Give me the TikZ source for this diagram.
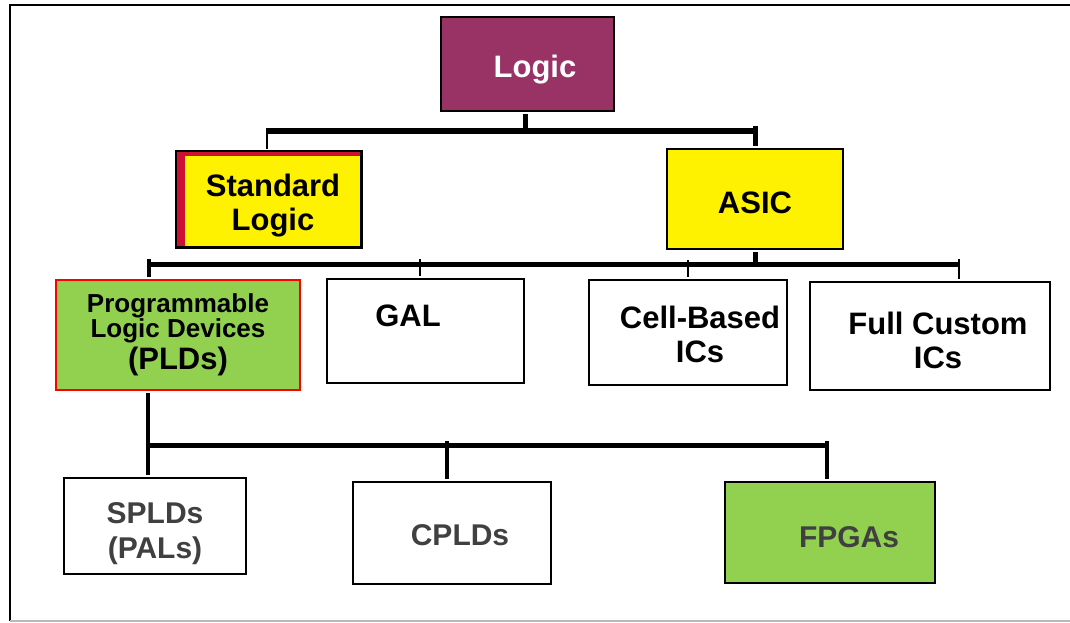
\documentclass[tikz,border=0pt]{standalone}
\usepackage{fontspec}
\setmainfont{Liberation Sans}
\definecolor{plum}{RGB}{153,51,102}
\definecolor{leaf}{RGB}{146,208,80}
\definecolor{crimson}{RGB}{204,17,51}
\definecolor{darktext}{RGB}{64,64,64}
\begin{document}
\begin{tikzpicture}[x=1pt,y=-1pt,
  box/.style={draw=black,line width=2.2pt,inner sep=0pt,align=center},
  big/.style={font=\bfseries\fontsize{31}{34}\selectfont,align=center},
  grey/.style={font=\bfseries\fontsize{30}{35}\selectfont,text=darktext,align=center},
  bar/.style={line width=5pt},
  stem/.style={line width=4pt},
  twig/.style={line width=2pt}]
\useasboundingbox (0,0) rectangle (1070,623);
\fill[white] (0,0) rectangle (1070,623);
% outer frame
\draw[line width=2pt] (10,621) -- (10,5) -- (1072,5);
\draw[line width=1.5pt,gray!55] (10,621) -- (1072,621);

% top level
\node[box,fill=plum,minimum width=173pt,minimum height=94pt,
  label={[big,text=white,xshift=7.5pt,yshift=-5.5pt]center:Logic}]
  (logic) at (527.5,64) {};

% second level
\node[box,fill=yellow,minimum width=184pt,minimum height=95pt] (std) at (269,199.5) {};
\fill[crimson] (std.north west) rectangle ++(9,95);
\fill[crimson] (std.north west) rectangle ++(184,5);
\draw[line width=2.2pt] (std.north west) rectangle (std.south east);
\node[big] (stdtext) at ([xshift=4pt,yshift=-6.5pt]std.center) {Standard\\Logic};

\node[box,fill=yellow,minimum width=176pt,minimum height=100pt,
  label={[big,yshift=-4pt]center:ASIC}]
  (asic) at (755,199) {};

% third level
\node[box,fill=leaf,draw=red,line width=1.2pt,minimum width=244pt,minimum height=110pt,
  font=\bfseries] (pld) at (178,335)
  {{\fontsize{26}{29}\selectfont Programmable}\\[0pt]
   {\fontsize{26}{29}\selectfont Logic Devices}\\[3pt]
   {\fontsize{31}{32}\selectfont (PLDs)}};
\node[box,minimum width=197pt,minimum height=104pt,
  label={[big,xshift=-17.5pt,yshift=15pt]center:GAL}]
  (gal) at (425.5,331) {};
\node[box,minimum width=198pt,minimum height=105pt,
  label={[big,xshift=12pt,yshift=-2pt]center:Cell-Based\\ICs}]
  (cell) at (688,332.5) {};
\node[box,minimum width=240pt,minimum height=108pt,
  label={[big,xshift=8pt,yshift=-4pt]center:Full Custom\\ICs}]
  (full) at (930,336) {};

% fourth level
\node[box,minimum width=182pt,minimum height=96pt,
  label={[grey,yshift=-7.5pt]center:SPLDs\\(PALs)}]
  (spld) at (155,526) {};
\node[box,minimum width=198pt,minimum height=102pt,
  label={[grey,xshift=8pt,yshift=-2pt]center:CPLDs}]
  (cpld) at (452,533) {};
\node[box,fill=leaf,minimum width=210pt,minimum height=101pt,
  label={[grey,xshift=19pt,yshift=-4.5pt]center:FPGAs}]
  (fpga) at (830,532.5) {};

% Logic to second level
\draw[line width=5pt] ([xshift=-2.5pt,yshift=-2pt]logic.south) -- ++(0,16);
\draw[bar] ([xshift=-2pt]std.north |- 0,131) -- (asic.north |- 0,131);
\draw[twig] ([xshift=-2pt,yshift=2pt]std.north) -- ++(0,-21);
\draw[line width=5pt] ([yshift=2pt]asic.north) -- ++(0,-20);

% ASIC to third level
\draw[line width=5pt] ([yshift=-2pt]asic.south) -- ++(0,14);
\draw[bar] ([xshift=-30pt]pld.north |- 0,264) -- ([xshift=29pt]full.north |- 0,264);
\draw[stem] ([xshift=-29pt,yshift=2pt]pld.north) -- ++(0,-18);
\draw[twig] ([xshift=-5.5pt,yshift=2pt]gal.north) -- ++(0,-17);
\draw[twig,line width=2.5pt] ([yshift=2pt]cell.north) -- ++(0,-17);
\draw[twig,line width=2.5pt] ([xshift=29pt,yshift=2pt]full.north) -- ++(0,-20);

% PLDs to fourth level
\draw[stem] ([xshift=-30pt,yshift=-2pt]pld.south) -- ([xshift=-7pt,yshift=2pt]spld.north);
\draw[bar] ([xshift=-7pt]spld.north |- 0,445) -- ([xshift=-3pt]fpga.north |- 0,445);
\draw[stem] ([xshift=-5pt,yshift=2pt]cpld.north) -- ++(0,-38);
\draw[stem] ([xshift=-3pt,yshift=2pt]fpga.north) -- ++(0,-38);
\end{tikzpicture}
\end{document}
